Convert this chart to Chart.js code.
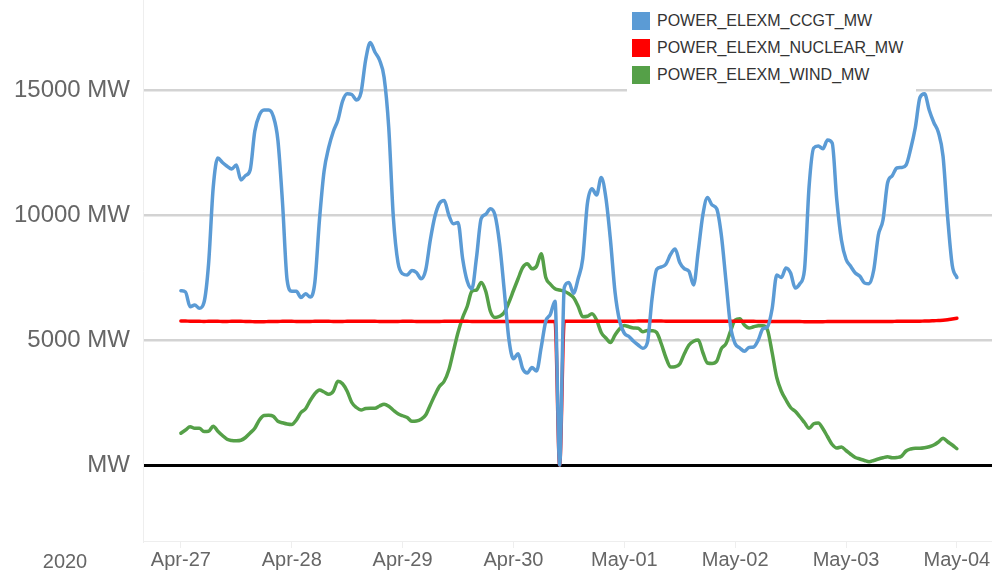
<!DOCTYPE html>
<html>
<head>
<meta charset="utf-8">
<script src="https://cdn.jsdelivr.net/npm/chart.js@4.4.0/dist/chart.umd.min.js"></script>
<style>
  body { margin: 0; background: #fff; }
  #wrap { position: relative; width: 992px; height: 572px; }
  #legend {
    position: absolute; left: 627px; top: 0; width: 289px; height: 92px;
    background: #fff; font-family: 'Liberation Sans', Arial, sans-serif;
    font-size: 16px; color: #333;
  }
  .item { position: absolute; left: 5px; height: 18px; line-height: 18px; white-space: nowrap; }
  .item span { display: inline-block; width: 18px; height: 18px; vertical-align: top; margin-right: 7px; }
</style>
</head>
<body>
<div id="wrap">
  <canvas id="myChart" width="992" height="572"></canvas>
  <div id="legend"></div>
</div>
<script>
// x axis: hours since Apr-27 00:00, one value per hour up to May-04 00:00
const dayLabels = ['Apr-27', 'Apr-28', 'Apr-29', 'Apr-30', 'May-01', 'May-02', 'May-03', 'May-04'];
const yearLabel = '2020';
const yTicks = [0, 5000, 10000, 15000];

const seriesNames = ['POWER_ELEXM_CCGT_MW', 'POWER_ELEXM_NUCLEAR_MW', 'POWER_ELEXM_WIND_MW'];
const seriesColors = ['#5b9bd5', '#ff0000', '#55a048'];

const ccgt = [
  6970, 6920, 6330, 6400, 6270, 6500, 8050, 11100, 12280, 12100, 11950, 11840,
  12000, 11400, 11580, 11800, 13350, 14000, 14200, 14200, 13950, 13000, 10500, 7400,
  6950, 6950, 6700, 6850, 6720, 7300, 9800, 11750, 12700, 13340, 13800, 14550,
  14850, 14820, 14600, 14900, 16200, 16900, 16520, 16200, 15500, 13500, 9900, 8100,
  7650, 7600, 7780, 7700, 7450, 7800, 9000, 9950, 10470, 10580, 10000, 9650,
  9700, 8250, 7350, 7050, 8300, 9850, 10030, 10250, 10000, 8850, 7000, 5050,
  4250, 4450, 3850, 3680, 3900, 3760, 4700, 5750, 6030, 6550, 0, 7100,
  7300, 6870, 7450, 8250, 10450, 11050, 10800, 11500, 10700, 9000, 6900, 5750,
  5270, 5140, 4950, 4800, 4670, 4900, 6650, 7820, 7920, 8030, 8420, 8640,
  8100, 7850, 7750, 7200, 8550, 10000, 10700, 10400, 10250, 9200, 7380, 5550,
  4850, 4680, 4550, 4700, 4720, 5000, 5450, 5530, 6250, 7600, 7500, 7880,
  7680, 7080, 7250, 7800, 11130, 12680, 12760, 12650, 13000, 12880, 10600, 9000,
  8230, 7950, 7680, 7550, 7280, 7250, 7800, 9200, 9800, 11290, 11570, 11880,
  11900, 12000, 12650, 13500, 14700, 14850, 14200, 13700, 13300, 12350, 9900, 7980,
  7500
];

const nuclear = [
  5760, 5760, 5750, 5750, 5750, 5740, 5750, 5750, 5750, 5740, 5740, 5750,
  5750, 5750, 5740, 5740, 5730, 5730, 5730, 5740, 5740, 5740, 5750, 5750,
  5750, 5740, 5740, 5740, 5740, 5750, 5750, 5750, 5750, 5740, 5740, 5740,
  5750, 5750, 5750, 5750, 5750, 5750, 5750, 5740, 5740, 5740, 5740, 5740,
  5750, 5750, 5750, 5740, 5740, 5740, 5740, 5740, 5740, 5750, 5750, 5750,
  5750, 5750, 5750, 5740, 5740, 5740, 5740, 5740, 5740, 5740, 5740, 5740,
  5740, 5740, 5740, 5740, 5740, 5740, 5740, 5740, 5740, 5740, 0, 5750,
  5750, 5750, 5750, 5750, 5750, 5750, 5750, 5750, 5750, 5750, 5750, 5750,
  5750, 5750, 5750, 5760, 5760, 5760, 5760, 5760, 5760, 5750, 5750, 5750,
  5750, 5750, 5750, 5750, 5750, 5750, 5750, 5750, 5750, 5750, 5750, 5750,
  5750, 5750, 5750, 5750, 5750, 5740, 5740, 5740, 5740, 5740, 5740, 5740,
  5740, 5740, 5740, 5730, 5730, 5730, 5730, 5730, 5740, 5740, 5740, 5740,
  5740, 5740, 5740, 5740, 5740, 5740, 5740, 5740, 5740, 5740, 5740, 5750,
  5750, 5750, 5750, 5750, 5750, 5760, 5760, 5770, 5780, 5790, 5810, 5840,
  5870
];

const wind = [
  1270, 1400, 1530, 1470, 1470, 1340, 1350, 1550, 1350, 1180, 1030, 980,
  970, 990, 1100, 1280, 1470, 1800, 1980, 1990, 1950, 1750, 1690, 1640,
  1620, 1800, 2100, 2250, 2580, 2850, 3000, 2920, 2830, 2950, 3350, 3250,
  2950, 2500, 2300, 2200, 2260, 2270, 2270, 2360, 2430, 2350, 2190, 2050,
  1970, 1900, 1750, 1760, 1830, 2000, 2400, 2800, 3150, 3350, 3800, 4550,
  5300, 5900, 6350, 6950, 7000, 7300, 6950, 6150, 5900, 5950, 6100, 6500,
  6980, 7450, 7900, 8050, 7850, 7950, 8450, 7500, 7230, 7050, 7000, 6950,
  6850, 6700, 6350, 5930, 5950, 6050, 5800, 5300, 5080, 4900, 5200, 5450,
  5580, 5530, 5480, 5470, 5330, 5380, 5370, 5300, 4850, 4300, 3920, 3930,
  4040, 4450, 4800, 4950, 5000, 4500, 4080, 4060, 4150, 4650, 4850, 5350,
  5800, 5850, 5600, 5480, 5530, 5570, 5570, 5400, 4500, 3500, 2950, 2600,
  2300, 2150, 1930, 1700, 1470, 1650, 1680, 1450, 1130, 820, 680, 720,
  580, 430, 300, 240, 180, 130, 180, 240, 290, 330, 290, 300,
  350, 560, 640, 670, 670, 690, 730, 800, 920, 1070, 930, 800,
  650
];

const FONT = "'Liberation Sans', Arial, sans-serif";
Chart.defaults.font.family = FONT;

function toPoints(values) {
  return values.map((v, i) => ({ x: i, y: v }));
}

// html legend sitting on a white box over the top-right of the plot
const legendEl = document.getElementById('legend');
seriesNames.forEach((name, i) => {
  const row = document.createElement('div');
  row.className = 'item';
  row.style.top = (12 + i * 27) + 'px';
  const box = document.createElement('span');
  box.style.background = seriesColors[i];
  row.appendChild(box);
  row.appendChild(document.createTextNode(name));
  legendEl.appendChild(row);
});

const yearPlugin = {
  id: 'yearLabel',
  afterDraw(chart) {
    const c = chart.ctx;
    c.save();
    c.font = '20px ' + FONT;
    c.fillStyle = '#666';
    c.textAlign = 'center';
    c.textBaseline = 'alphabetic';
    c.fillText(yearLabel, 65, 568);
    c.restore();
  }
};

// no extra room round the axes: chart area runs to the top and right edges
function noPad(s) {
  s.paddingTop = 0;
  s.paddingBottom = 0;
  s.paddingLeft = 0;
  s.paddingRight = 0;
}

const ctx = document.getElementById('myChart');
const chart = new Chart(ctx, {
  type: 'line',
  data: {
    datasets: [
      { label: seriesNames[0], data: toPoints(ccgt), borderColor: seriesColors[0] },
      { label: seriesNames[1], data: toPoints(nuclear), borderColor: seriesColors[1] },
      { label: seriesNames[2], data: toPoints(wind), borderColor: seriesColors[2] }
    ]
  },
  options: {
    responsive: false,
    animation: false,
    layout: { padding: 0 },
    elements: {
      point: { radius: 0 },
      line: { borderWidth: 3.5, cubicInterpolationMode: 'monotone', borderCapStyle: 'round', borderJoinStyle: 'round' }
    },
    plugins: {
      legend: { display: false },
      tooltip: { enabled: false }
    },
    scales: {
      x: {
        type: 'linear',
        min: -8.2,
        max: 175.6,
        afterBuildTicks: s => { s.ticks = dayLabels.map((d, i) => ({ value: i * 24 })); },
        afterFit: s => { s.height = 31; noPad(s); },
        ticks: {
          callback: v => dayLabels[Math.round(v / 24)],
          color: '#666',
          font: { size: 20 },
          maxRotation: 0,
          autoSkip: false,
          padding: 0
        },
        grid: { drawOnChartArea: false, drawTicks: true, tickLength: 7, color: '#eee' },
        border: { display: true, color: '#eee' }
      },
      y: {
        min: -3040,
        max: 18600,
        afterBuildTicks: s => { s.ticks = yTicks.map(v => ({ value: v })); },
        afterFit: s => { s.width = 143; noPad(s); },
        ticks: {
          callback: v => v === 0 ? 'MW' : v + ' MW',
          color: '#666',
          font: { size: 24 },
          padding: 13
        },
        grid: {
          drawTicks: false,
          color: c => (c.tick && c.tick.value === 0) ? '#000' : '#d3d3d3',
          lineWidth: c => (c.tick && c.tick.value === 0) ? 3 : 2.5
        },
        border: { display: true, color: '#eee' }
      }
    }
  },
  plugins: [yearPlugin]
});
</script>
</body>
</html>
